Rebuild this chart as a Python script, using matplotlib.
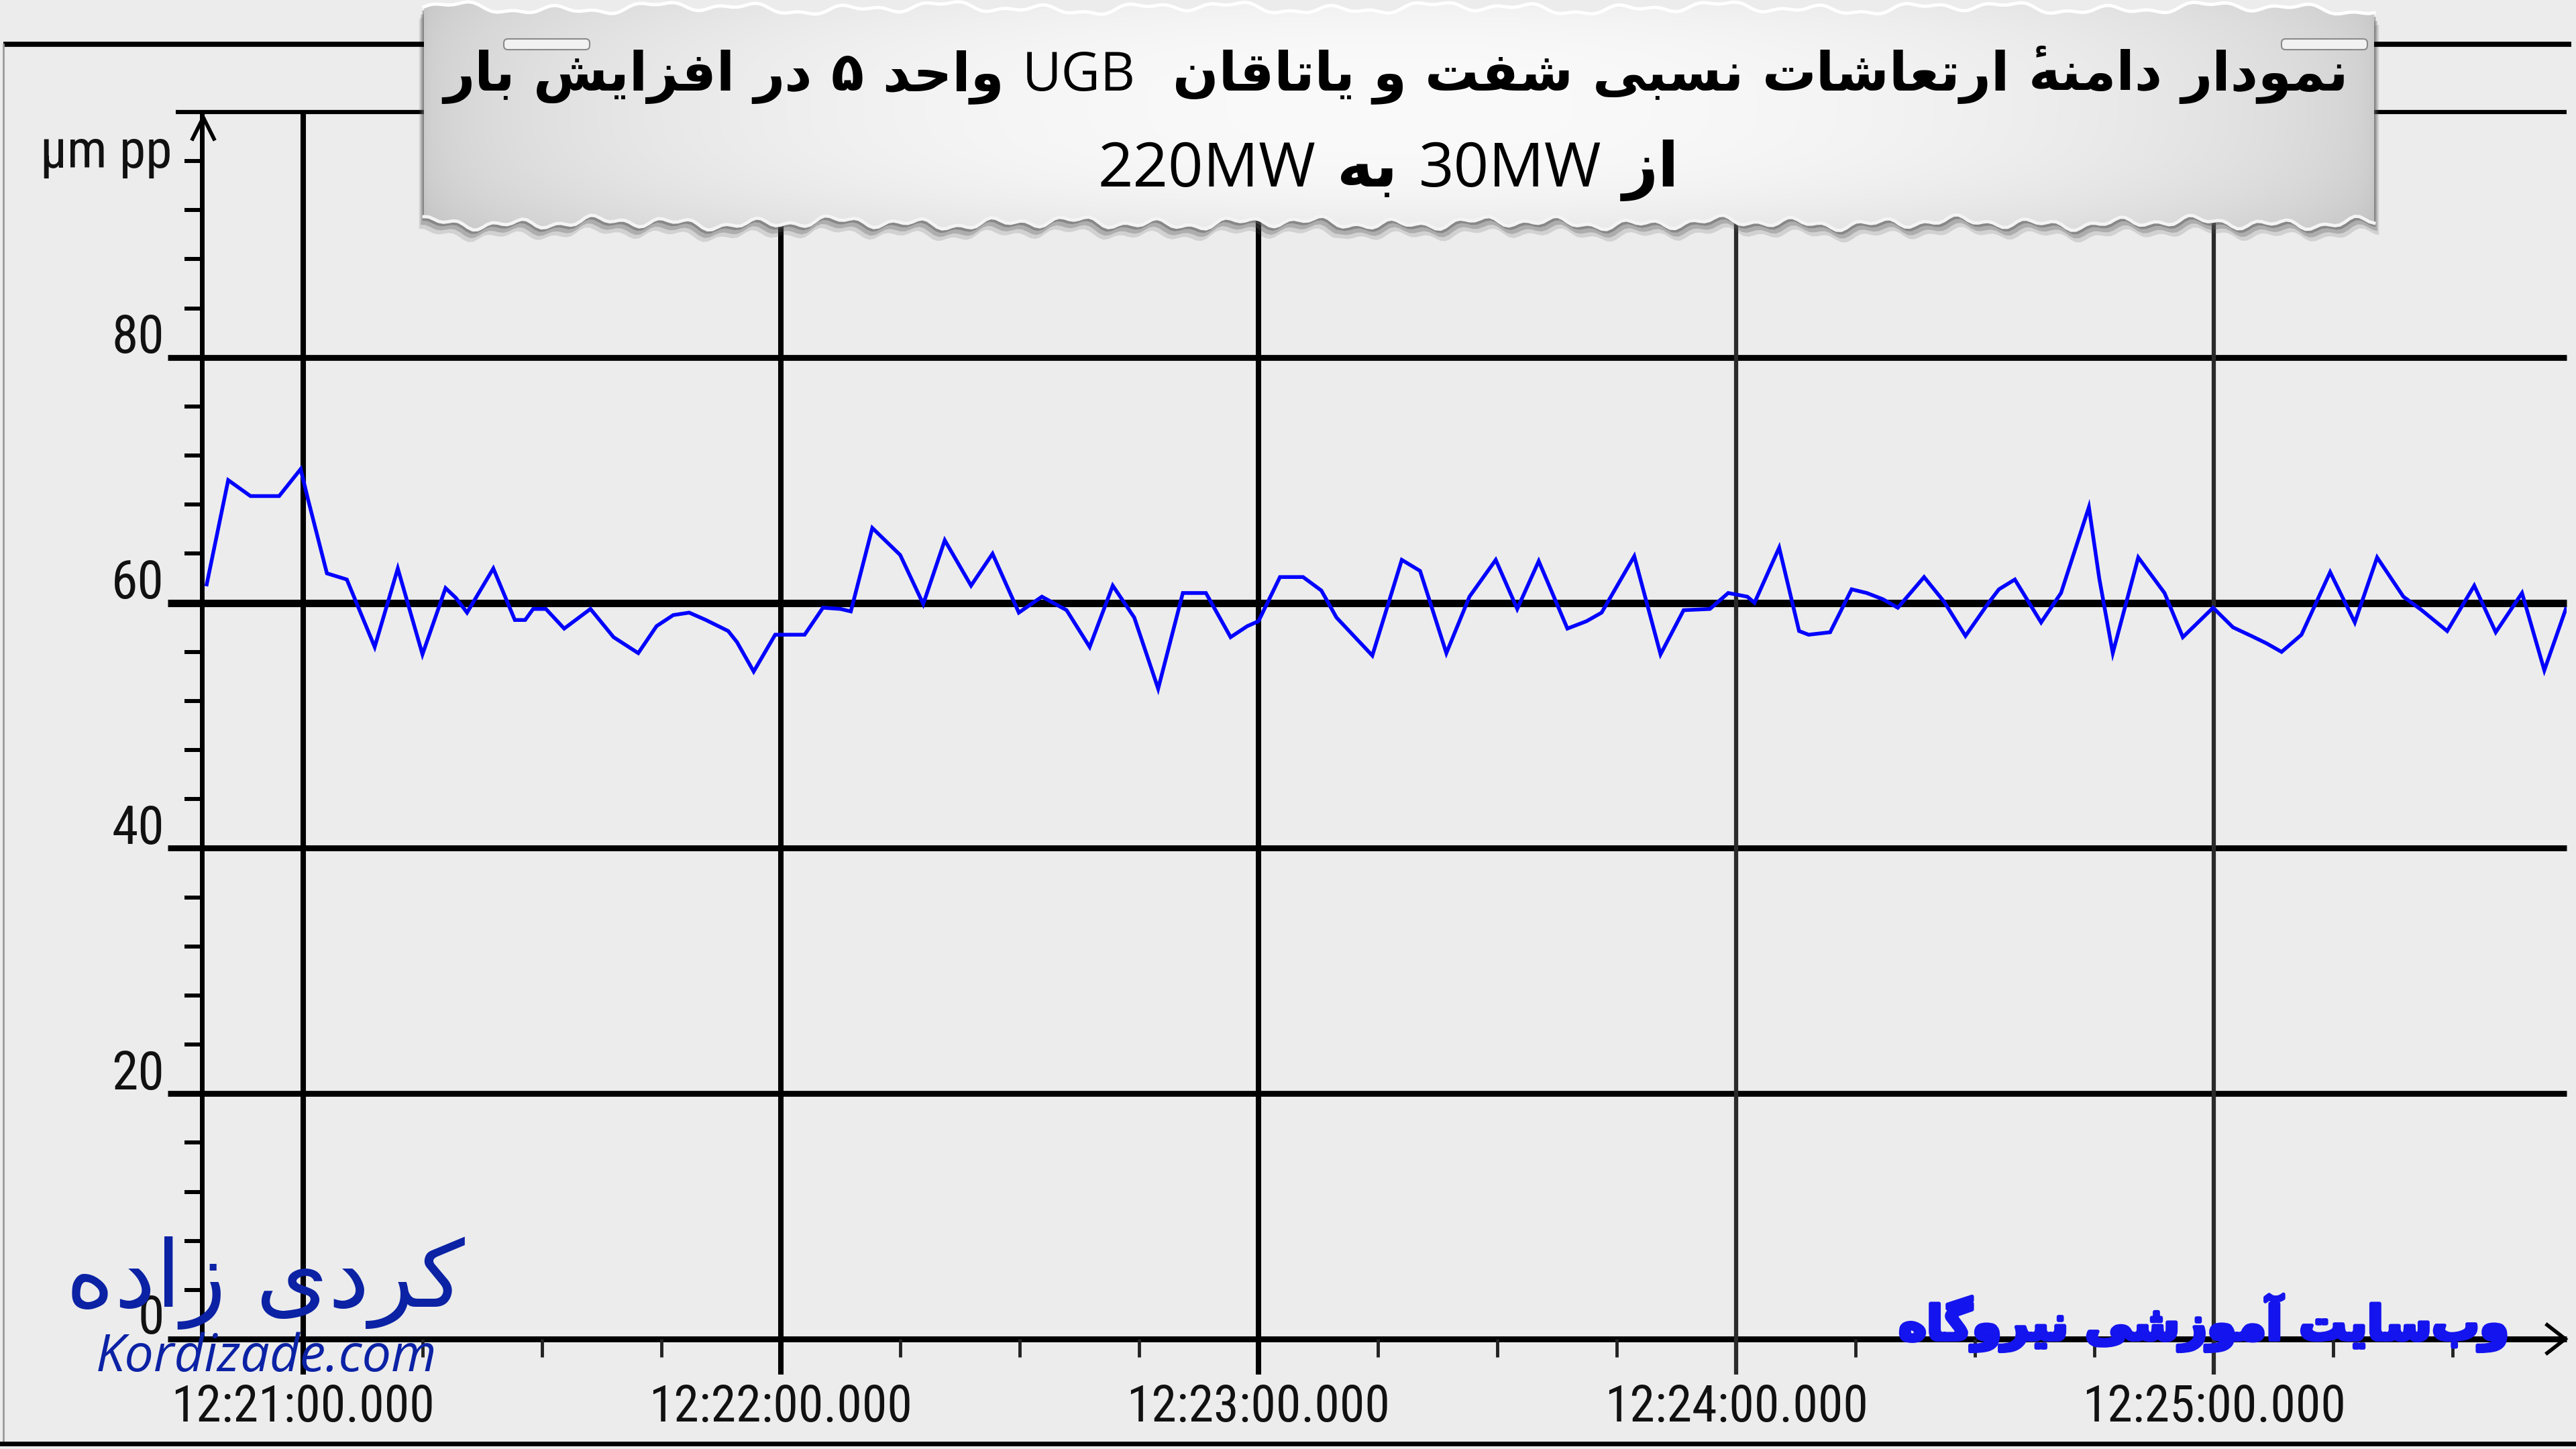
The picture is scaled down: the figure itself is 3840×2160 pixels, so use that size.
import numpy as np
import matplotlib
matplotlib.use("Agg")
import matplotlib.pyplot as plt
from matplotlib import font_manager as fm
from matplotlib.patches import Polygon, FancyBboxPatch
import matplotlib.patheffects as pe

# ---------------- data ----------------
# time in seconds after 12:21:00.000
seconds = [-12.1, -9.4, -6.6, -3.0, -0.3, 0.6, 3.0, 5.5, 9.0, 11.9, 15.0, 17.9, 19.2, 20.6,
           23.9, 26.6, 27.9, 28.9, 30.5, 32.8, 36.1, 39.0, 42.1, 44.4, 46.5, 48.5, 50.6, 53.4,
           54.5, 56.6, 59.3, 63.0, 65.3, 67.5, 68.8, 71.5, 75.0, 77.9, 80.6, 83.9, 86.6, 89.9,
           92.8, 95.9, 98.8, 101.7, 104.4, 107.4, 110.5, 113.4, 116.5, 118.6, 120.0, 122.7,
           125.6, 127.9, 129.8, 134.3, 138.0, 140.3, 143.6, 146.5, 149.8, 152.5, 155.2, 158.8,
           161.2, 163.1, 167.2, 170.5, 173.4, 176.7, 179.0, 181.4, 182.3, 185.4, 187.9, 189.1,
           191.8, 194.5, 196.4, 198.4, 200.3, 203.6, 206.1, 208.8, 211.7, 213.0, 215.0, 218.3,
           220.8, 224.3, 225.6, 227.3, 230.5, 233.8, 236.1, 239.9, 242.4, 244.7, 246.6, 248.5,
           251.0, 254.6, 257.7, 260.5, 263.8, 266.1, 269.3, 272.7, 275.4, 278.7, 281.5, 284.2]
amplitude = [61.5, 70.0, 68.7, 68.7, 70.9, 68.5, 62.4, 61.9, 56.4, 62.8, 55.8, 61.2, 60.4, 59.2,
             62.8, 58.6, 58.6, 59.5, 59.5, 57.9, 59.5, 57.2, 55.9, 58.1, 59.0, 59.2, 58.6, 57.7,
             56.8, 54.4, 57.4, 57.4, 59.6, 59.5, 59.3, 66.1, 63.9, 59.9, 65.1, 61.4, 64.0, 59.2,
             60.5, 59.4, 56.4, 61.4, 58.8, 53.0, 60.8, 60.8, 57.2, 58.1, 58.5, 62.1,
             62.1, 61.0, 58.8, 55.7, 63.5, 62.6, 55.9, 60.5, 63.5, 59.5, 63.4, 57.9,
             58.5, 59.2, 63.8, 55.8, 59.4, 59.5, 60.8, 60.5, 60.0, 64.5, 57.7, 57.4,
             57.6, 61.1, 60.8, 60.3, 59.6, 62.1, 60.1, 57.3, 60.0, 61.1, 61.9, 58.4,
             60.8, 67.8, 62.0, 55.9, 63.7, 60.8, 57.2, 59.6, 58.0, 57.3, 56.7, 56.0,
             57.4, 62.5, 58.4, 63.7, 60.5, 59.4, 57.7, 61.4, 57.6, 60.8, 54.5, 59.5]

minute_ticks = [0, 60, 120, 180, 240]
minute_labels = ["12:21:00.000", "12:22:00.000", "12:23:00.000", "12:24:00.000", "12:25:00.000"]
y_major = [0, 20, 40, 60, 80]
y_major_labels = ["0", "20", "40", "60", "80"]
y_unit = "µm pp"
title_line1 = "نمودار دامنهٔ ارتعاشات نسبی شفت و یاتاقان  UGB واحد ۵ در افزایش بار"
title_line2 = "از 30MW به 220MW"
wm_left = "کردی زاده"
wm_left_url = "Kordizade.com"
wm_right = "وب‌سایت آموزشی نیروگاه"

# ---------------- Persian shaping (presentation forms + RTL order) ----------------
FORMS = {
    "\u0622": ("\uFE81", "\uFE82", None, None),
    "\u0627": ("\uFE8D", "\uFE8E", None, None),
    "\u0628": ("\uFE8F", "\uFE90", "\uFE91", "\uFE92"),
    "\u062A": ("\uFE95", "\uFE96", "\uFE97", "\uFE98"),
    "\u062D": ("\uFEA1", "\uFEA2", "\uFEA3", "\uFEA4"),
    "\u062F": ("\uFEA9", "\uFEAA", None, None),
    "\u0631": ("\uFEAD", "\uFEAE", None, None),
    "\u0632": ("\uFEAF", "\uFEB0", None, None),
    "\u0633": ("\uFEB1", "\uFEB2", "\uFEB3", "\uFEB4"),
    "\u0634": ("\uFEB5", "\uFEB6", "\uFEB7", "\uFEB8"),
    "\u0639": ("\uFEC9", "\uFECA", "\uFECB", "\uFECC"),
    "\u0641": ("\uFED1", "\uFED2", "\uFED3", "\uFED4"),
    "\u0642": ("\uFED5", "\uFED6", "\uFED7", "\uFED8"),
    "\u0645": ("\uFEE1", "\uFEE2", "\uFEE3", "\uFEE4"),
    "\u0646": ("\uFEE5", "\uFEE6", "\uFEE7", "\uFEE8"),
    "\u0647": ("\uFEE9", "\uFEEA", "\uFEEB", "\uFEEC"),
    "\u0648": ("\uFEED", "\uFEEE", None, None),
    "\u06A9": ("\uFB8E", "\uFB8F", "\uFB90", "\uFB91"),
    "\u06AF": ("\uFB92", "\uFB93", "\uFB94", "\uFB95"),
    "\u06CC": ("\uFBFC", "\uFBFD", "\uFBFE", "\uFBFF"),
}
MARKS = {"\u0654", "\u064B", "\u064C", "\u064D", "\u064E", "\u064F", "\u0650", "\u0651", "\u0652"}


def is_arabic(w):
    return any("\u0600" <= ch <= "\u06FF" for ch in w)


def shape_word(word):
    chars = list(word)
    n = len(chars)

    def neighbour(i, step):
        j = i + step
        while 0 <= j < n and chars[j] in MARKS:
            j += step
        return chars[j] if 0 <= j < n else None

    out = []
    for i, c in enumerate(chars):
        if c not in FORMS:
            out.append(c)
            continue
        iso, fin, ini, med = FORMS[c]
        p, nx = neighbour(i, -1), neighbour(i, 1)
        jp = p in FORMS and FORMS[p][2] is not None
        jn = ini is not None and nx in FORMS
        out.append(med if (jp and jn) else fin if jp else ini if jn else iso)
    clusters = []
    for c in out:
        if c == "\u200c":
            continue
        if c in MARKS and clusters:
            clusters[-1] = [c] + clusters[-1]
        else:
            clusters.append([c])
    return "".join("".join(cl) for cl in reversed(clusters))


def visual_tokens(text):
    """(word, is_persian) of an RTL line in left-to-right visual order"""
    return [(shape_word(w), True) if is_arabic(w) else (w, False) for w in reversed(text.split(" "))]


def visual(text):
    return " ".join(t for t, _ in visual_tokens(text))


# ---------------- fonts ----------------
def find_narrow():
    prefs = ["Liberation Sans Narrow", "Roboto Condensed", "DejaVu Sans", "Open Sans Condensed"]
    found = {}
    for f in fm.fontManager.ttflist:
        low = (f.name + " " + f.fname).lower()
        narrowish = ("narrow" in low or "condensed" in low or str(f.stretch) in ("condensed", "semi-condensed"))
        if not narrowish or f.style != "normal":
            continue
        if f.weight not in (400, "normal", "regular", "book"):
            continue
        if "bold" in f.fname.lower() or "light" in f.fname.lower():
            continue
        found.setdefault(f.name, f.fname)
    for p in prefs:
        if p in found:
            return fm.FontProperties(fname=found[p])
    if found:
        return fm.FontProperties(fname=sorted(found.values())[0])
    return fm.FontProperties(family="Liberation Sans")


NARROW_FP = find_narrow()
avail = {f.name for f in fm.fontManager.ttflist}
LAT = "Open Sans" if "Open Sans" in avail else "DejaVu Sans"

# ---------------- figure ----------------
W, H = 3840, 2160
BG = "#ECECEC"
fig = plt.figure(figsize=(W / 100, H / 100), dpi=100)
fig.patch.set_facecolor(BG)
r = fig.canvas.get_renderer()

AX_L, AX_R, AX_T, AX_B = 301, 3826, 167, 1996
AW, AH = AX_R - AX_L, AX_B - AX_T
ax = fig.add_axes([AX_L / W, (H - AX_B) / H, AW / W, AH / H])
ax.set_facecolor(BG)
ax.set_xlim(-12.7, 284.3)
ax.set_ylim(0, 100)
for s in ax.spines.values():
    s.set_visible(False)
ax.set_xticks([])
ax.set_yticks([])
ytr = ax.get_yaxis_transform()
xtr = ax.get_xaxis_transform()

# horizontal grid lines (major y ticks)
for v in y_major:
    if v == 0:
        continue
    ax.plot([-51 / AW, 1], [v, v], transform=ytr, color="black",
            lw=8.0 if v == 60 else 6.3, solid_capstyle="butt", clip_on=False, zorder=2)
# top line
ax.plot([-39 / AW, 1], [100, 100], transform=ytr, color="black", lw=4.5,
        solid_capstyle="butt", clip_on=False, zorder=2)
# x axis line
ax.plot([-51 / AW, 1], [0, 0], transform=ytr, color="black", lw=6.3,
        solid_capstyle="butt", clip_on=False, zorder=2)
# y axis line
ax.plot([0, 0], [0, 1], transform=ax.transAxes, color="black", lw=5.0,
        solid_capstyle="butt", clip_on=False, zorder=2)
# vertical grid lines at minutes
vcols = ["black", "black", "black", "#2a2a2a", "#2a2a2a"]
vlws = [5.8, 5.8, 5.8, 4.5, 4.5]
for t, c, lw in zip(minute_ticks, vcols, vlws):
    ax.plot([t, t], [-53 / AH, 1], transform=xtr, color=c, lw=lw,
            solid_capstyle="butt", clip_on=False, zorder=2)
# minor x ticks every 15 s
for t in range(15, 285, 15):
    if t % 60:
        ax.plot([t, t], [-27 / AH, 0], transform=xtr, color="#222222", lw=3.5,
                solid_capstyle="butt", clip_on=False, zorder=2)
# minor y ticks every 4 units
for v in range(4, 100, 4):
    if v % 20:
        ax.plot([-26 / AW, 0], [v, v], transform=ytr, color="black", lw=4.3,
                solid_capstyle="butt", clip_on=False, zorder=2)

# data line
ax.plot(seconds, amplitude, color="#0000FF", lw=4.0, zorder=3, solid_joinstyle="miter")

# tick labels
xlabs = []
for t, lab in zip(minute_ticks, minute_labels):
    xlabs.append(ax.text(t, -0.036, lab, transform=xtr, ha="center", va="top",
                         fontproperties=NARROW_FP, fontsize=58, color="#111111", clip_on=False))
wx = xlabs[0].get_window_extent(r).width
lab_size = min(66.0, 58 * 392 / wx)
for tl in xlabs:
    tl.set_fontsize(lab_size)
for v, lab in zip(y_major, y_major_labels):
    ax.text(-56 / AW, v + (0.35 if v else 0.45), lab, transform=ytr, ha="right", va="baseline",
            fontproperties=NARROW_FP, fontsize=lab_size * 1.05, color="#111111", clip_on=False)

# ---------------- decoration overlay (pixel coordinates) ----------------
deco = fig.add_axes([0, 0, 1, 1], zorder=5)
deco.patch.set_alpha(0)
deco.axis("off")
deco.set_xlim(0, W)
deco.set_ylim(H, 0)

deco.text(257, 250, y_unit, ha="right", va="baseline", fontproperties=NARROW_FP,
          fontsize=lab_size * 1.05, color="#111111")

# outer frame
deco.plot([5, 3833], [66, 66], color="black", lw=5.5, solid_capstyle="butt")
deco.plot([5, 5], [66, 2152], color="#9a9a9a", lw=2.0)
deco.plot([0, W], [2152, 2152], color="black", lw=5.0)

# axis arrows
deco.plot([287, 303, 319], [207, 175, 207], color="black", lw=4.0, solid_joinstyle="miter")
deco.plot([3797, 3824, 3797], [1975, 1996, 2017], color="black", lw=4.0, solid_joinstyle="miter")

# title banner with torn edges
bx = np.linspace(632, 3539, 400)
top = 12 + 5 * np.sin(bx / 23.0) + 3 * np.sin(bx / 9.7 + 1.3) + 4 * np.sin(bx / 61.0 + 0.5)
bot = 332 + 5 * np.sin(bx / 19.0 + 2.0) + 4 * np.sin(bx / 7.9) + 3 * np.sin(bx / 53.0)
verts = np.vstack([np.column_stack([bx, top]), np.column_stack([bx[::-1], bot[::-1]])])
for off, a in [(18, 0.18), (12, 0.3), (6, 0.45)]:
    sh = verts.copy()
    sh[:, 1] += off
    sh[:, 0] += np.where(sh[:, 0] > 2000, off * 0.4, -off * 0.4)
    deco.add_patch(Polygon(sh, closed=True, facecolor="#5a5a5a", edgecolor="none", alpha=a, zorder=1))
banner = Polygon(verts, closed=True, facecolor="none", edgecolor="none", zorder=2)
deco.add_patch(banner)
u = np.linspace(0, 1, 600)
col = 0.80 + 0.18 * np.sin(np.pi * u) ** 0.5
vv = np.linspace(0, 1, 80)
row = 1.0 - 0.05 * (np.abs(vv - 0.45) * 2) ** 3
grad = np.clip(np.outer(row, col), 0, 1)
img = deco.imshow(np.dstack([grad, grad, grad]), extent=[632, 3539, 350, 0],
                  aspect="auto", zorder=2, interpolation="bilinear")
img.set_clip_path(banner)
deco.plot(bx, top, color="white", lw=3.5, zorder=3)
deco.plot(bx, bot, color="#f4f4f4", lw=3.5, zorder=3)
for cx in (815, 3465):
    deco.add_patch(FancyBboxPatch((cx - 62, 60), 124, 12, boxstyle="round,pad=2,rounding_size=6",
                                  facecolor="#f2f2f2", edgecolor="#8a8a8a", lw=1.5, zorder=3))
deco.set_xlim(0, W)
deco.set_ylim(H, 0)


def title_line(text, cx, baseline, target_w, size=50):
    """Persian words bold, Latin words regular; laid out right-to-left."""
    toks = visual_tokens(text)
    arts = []
    for tk, persian in toks:
        if tk == "":
            arts.append(None)
            continue
        if persian:
            a = deco.text(0, baseline, tk, ha="left", va="baseline", fontsize=size,
                          fontweight="bold", family=["DejaVu Sans"], color="black", zorder=4)
        else:
            a = deco.text(0, baseline, tk, ha="left", va="baseline", fontsize=size,
                          fontweight="normal", family=[LAT, "DejaVu Sans"], color="black", zorder=4)
        arts.append(a)

    def widths(sz):
        ws = [0 if a is None else a.get_window_extent(r).width for a in arts]
        space = 0.34 * sz * 100 / 72
        return ws, space

    ws, space = widths(size)
    total = sum(ws) + space * (len(arts) - 1)
    sz = size * target_w / total
    for a in arts:
        if a is not None:
            a.set_fontsize(sz)
    ws, space = widths(sz)
    total = sum(ws) + space * (len(arts) - 1)
    x = cx - total / 2
    for a, w in zip(arts, ws):
        if a is not None:
            a.set_x(x)
        x += w + space


title_line(title_line1, 2081, 135, 2842)
title_line(title_line2, 2070, 278, 866)

# watermarks
w1 = deco.text(395, 1912, visual(wm_left), ha="center", va="center", fontsize=90,
               family=["DejaVu Sans"], color="#0B22A5", zorder=6)
w2 = deco.text(397, 2024, wm_left_url, ha="center", va="center", fontsize=54,
               style="italic", family=[LAT, "DejaVu Sans"], color="#0B22A5", zorder=6)
w3 = deco.text(3285, 1972, visual(wm_right), ha="center", va="center", fontsize=90,
               fontweight="bold", family=["DejaVu Sans"], color="#1414EE", zorder=6,
               path_effects=[pe.withStroke(linewidth=4, foreground="#1414EE")])

for art, target in [(w1, 595), (w2, 509), (w3, 910)]:
    wcur = art.get_window_extent(r).width
    art.set_fontsize(art.get_fontsize() * target / wcur)

fig.savefig("out.png", dpi=100, facecolor=BG)
